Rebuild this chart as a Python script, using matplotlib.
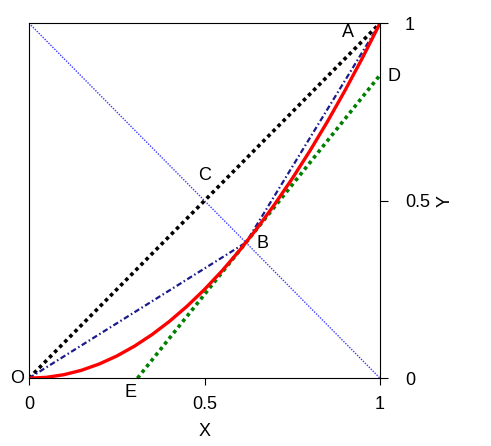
import matplotlib.pyplot as plt

plt.rcParams['font.family'] = ['Liberation Sans', 'DejaVu Sans']

# curve
curve_x = [0, 0.05, 0.1, 0.15, 0.2, 0.25, 0.3, 0.35, 0.4, 0.45, 0.5,
           0.55, 0.6, 0.65, 0.7, 0.75, 0.8, 0.85, 0.9, 0.95, 1.0]
curve_y = [0, 0.0025, 0.01, 0.0225, 0.04, 0.0625, 0.09, 0.1225, 0.16, 0.2025, 0.25,
           0.3025, 0.36, 0.4225, 0.49, 0.5625, 0.64, 0.7225, 0.81, 0.9025, 1.0]

diag_x = [0, 1]
diag_y = [0, 1]
anti_x = [0, 1]
anti_y = [1, 0]
chord_x = [0, 0.618, 1]
chord_y = [0, 0.382, 1]
tangent_x = [0.309, 1]
tangent_y = [0, 0.854]

points = ['O', 'A', 'C', 'B', 'D', 'E']
point_x = [-0.035, 0.91, 0.5, 0.665, 1.04, 0.29]
point_y = [0.0, 0.975, 0.57, 0.38, 0.85, -0.04]

fig = plt.figure(figsize=(4.91, 4.46), dpi=100)
ax = fig.add_axes([0.059, 0.152, 0.715, 0.796])

ax.plot(anti_x, anti_y, color='#3a3aff', lw=1.0, ls=(0, (1, 1)))
ax.plot(diag_x, diag_y, color='black', lw=2.6, ls=(0, (1, 1)))
ax.plot(chord_x, chord_y, color='#1a1a8c', lw=1.6, ls=(0, (2.5, 1.2, 0.7, 1.2)))
ax.plot(tangent_x, tangent_y, color='#008000', lw=2.6, ls=(0, (1, 1)))
ax.plot(curve_x, curve_y, color='red', lw=2.4)

for name, px, py in zip(points, point_x, point_y):
    ax.text(px, py, name, fontsize=13, ha='center', va='center', clip_on=False)

ax.set_xlim(0, 1)
ax.set_ylim(0, 1)
ax.set_xticks([0, 0.5, 1])
ax.set_xticklabels(['0', '0.5', '1'])
ax.set_yticks([0, 0.5, 1])
ax.set_yticklabels(['0', '0.5', '1'])
ax.yaxis.tick_right()
ax.yaxis.set_label_position('right')
ax.tick_params(axis='x', direction='out', length=5, pad=8, labelsize=13)
ax.tick_params(axis='y', direction='out', length=6, pad=12, labelsize=13)
ax.set_xlabel('X', fontsize=13, labelpad=7)
ax.set_ylabel('Y', fontsize=13, labelpad=5)

plt.savefig('out.png', dpi=100)
